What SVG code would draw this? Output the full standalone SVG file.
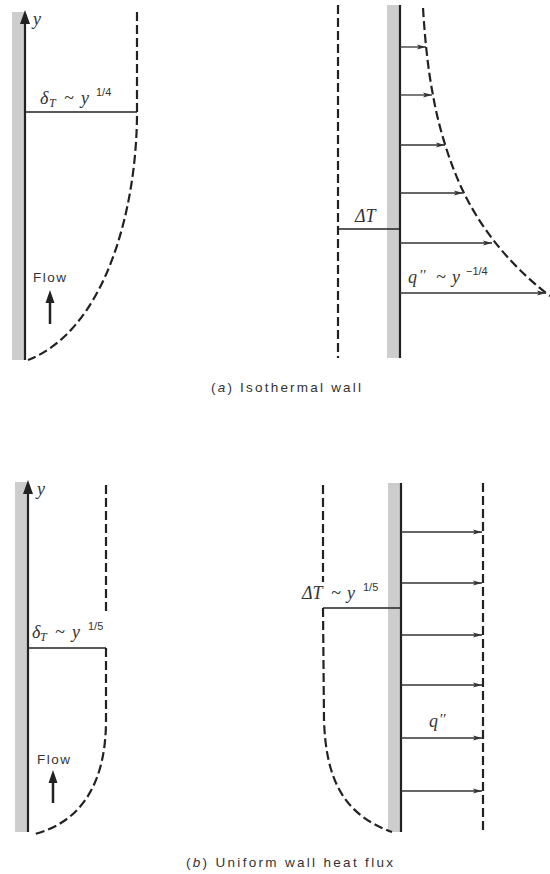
<svg xmlns="http://www.w3.org/2000/svg" width="550" height="874" viewBox="0 0 550 874">
<style>
.wall{fill:#cdcdcd;stroke:none}
.wl{stroke:#222;stroke-width:2.2;fill:none}
.dash{stroke:#222;stroke-width:2.2;fill:none;stroke-dasharray:9 4}
.thin{stroke:#222;stroke-width:1.5;fill:none}
.arr{stroke:#333;stroke-width:1.3;fill:none;marker-end:url(#ah)}
.math{font-family:"Liberation Serif",serif;font-style:italic;font-size:18px;fill:#333}
.sub{font-size:12px}
.sup{font-family:"Liberation Sans",Arial,sans-serif;font-style:normal;font-size:11px}
.pr{font-family:"Liberation Serif",serif;font-style:italic;font-size:15px}
.cap{font-family:"Liberation Sans",Arial,sans-serif;font-size:13.5px;fill:#333}
.flow{font-family:"Liberation Sans",Arial,sans-serif;font-size:13.5px;letter-spacing:1.5px;fill:#333}
</style>
<defs>
<marker id="ah" markerWidth="10" markerHeight="6" refX="9" refY="3" orient="auto" markerUnits="userSpaceOnUse">
<path d="M0,0.5 L9,3 L0,5.5 L2,3 z" fill="#333"/>
</marker>
</defs>

<!-- (a) left panel -->
<g id="a-left">
<rect class="wall" x="12" y="12" width="13" height="348"/>
<line class="wl" x1="25" y1="360" x2="25" y2="20"/>
<path d="M20,24 L25,10 L30,24 z" fill="#222"/>
<text class="math" x="33" y="25">y</text>
<path class="dash" d="M137,12 L137,112 C137,210 105,330 28,360"/>
<line class="thin" x1="25" y1="112" x2="137" y2="112"/>
<text class="math" y="104"><tspan x="40">δ</tspan><tspan class="sub" x="49" dy="3">T</tspan><tspan x="64" dy="-3">~</tspan><tspan x="81">y</tspan><tspan class="sup" x="96" dy="-8">1/4</tspan></text>
<text class="flow" x="33" y="282">Flow</text>
<line x1="50" y1="324" x2="50" y2="300" stroke="#222" stroke-width="2.5"/>
<path d="M45.5,303 L50,290 L54.5,303 z" fill="#222"/>
</g>

<!-- (a) right panel -->
<g id="a-right">
<rect class="wall" x="387" y="5" width="13" height="353"/>
<line class="wl" x1="400" y1="5" x2="400" y2="358"/>
<line class="dash" x1="338" y1="5" x2="338" y2="358"/>
<path class="dash" d="M423,8 C425,40 428,70 433,95 C438,125 450,165 464,193 C478,222 505,262 550,296"/>
<line class="thin" x1="338" y1="229" x2="400" y2="229"/>
<text class="math" x="355" y="222">ΔT</text>
<text class="math" y="283"><tspan x="408">q</tspan><tspan class="pr" x="419" dy="-3">′′</tspan><tspan x="436" dy="3">~</tspan><tspan x="452">y</tspan><tspan class="sup" x="466" dy="-8">−1/4</tspan></text>
</g>

<!-- (b) left panel -->
<g id="b-left">
<rect class="wall" x="15" y="482" width="13" height="350"/>
<line class="wl" x1="28" y1="832" x2="28" y2="490"/>
<path d="M23,494 L28,480 L33,494 z" fill="#222"/>
<text class="math" x="37" y="495">y</text>
<path class="dash" d="M106,485 L106,614"/>
<path class="dash" d="M106,648 L106,720 C106,785 80,822 35,834"/>
<line class="thin" x1="28" y1="648" x2="106" y2="648"/>
<text class="math" y="638"><tspan x="32">δ</tspan><tspan class="sub" x="40" dy="3">T</tspan><tspan x="55" dy="-3">~</tspan><tspan x="72">y</tspan><tspan class="sup" x="88" dy="-8">1/5</tspan></text>
<text class="flow" x="37" y="764">Flow</text>
<line x1="53" y1="803" x2="53" y2="780" stroke="#222" stroke-width="2.5"/>
<path d="M48.5,783 L53,770 L57.5,783 z" fill="#222"/>
</g>

<!-- (b) right panel -->
<g id="b-right">
<rect class="wall" x="388" y="483" width="13" height="349"/>
<line class="wl" x1="401" y1="483" x2="401" y2="832"/>
<line class="dash" x1="323" y1="485" x2="323" y2="582"/>
<path class="dash" d="M323,608 L324,720 C326,782 345,815 392,832"/>
<line class="dash" x1="483" y1="483" x2="483" y2="832"/>
<line class="thin" x1="323" y1="608" x2="401" y2="608"/>
<text class="math" y="599"><tspan x="302">ΔT</tspan><tspan x="331">~</tspan><tspan x="347">y</tspan><tspan class="sup" x="363" dy="-8">1/5</tspan></text>
<text class="math" y="727"><tspan x="429">q</tspan><tspan class="pr" x="439" dy="-3">′′</tspan></text>
</g>

<!-- connectors: heat flux arrows -->
<g id="connectors">
<line class="arr" x1="400" y1="47" x2="426" y2="47"/>
<line class="arr" x1="400" y1="95" x2="432" y2="95"/>
<line class="arr" x1="400" y1="145" x2="445" y2="145"/>
<line class="arr" x1="400" y1="193" x2="463" y2="193"/>
<line class="arr" x1="400" y1="243" x2="492" y2="243"/>
<line class="arr" x1="400" y1="293" x2="546" y2="293"/>
<line class="arr" x1="401" y1="532" x2="482" y2="532"/>
<line class="arr" x1="401" y1="583" x2="482" y2="583"/>
<line class="arr" x1="401" y1="635" x2="482" y2="635"/>
<line class="arr" x1="401" y1="685" x2="482" y2="685"/>
<line class="arr" x1="401" y1="738" x2="482" y2="738"/>
<line class="arr" x1="401" y1="791" x2="482" y2="791"/>
</g>

<g id="captions">
<text class="cap" x="211" y="392" textLength="150" lengthAdjust="spacing">(<tspan font-style="italic">a</tspan>)  Isothermal wall</text>
<text class="cap" x="186" y="867" textLength="207" lengthAdjust="spacing">(<tspan font-style="italic">b</tspan>)  Uniform wall heat flux</text>
</g>
</svg>
